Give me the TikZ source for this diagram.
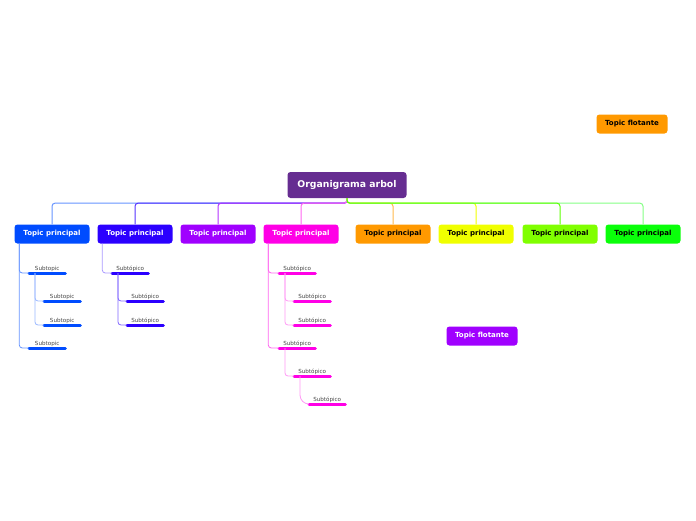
\documentclass[tikz,border=0pt]{standalone}
\usepackage{fontspec}
\setmainfont{DejaVu Sans}
\usepackage{tikz}
\usetikzlibrary{positioning,calc}
\definecolor{rootpurple}{RGB}{102,45,145}
\definecolor{cone}{RGB}{0,76,255}
\definecolor{ctwo}{RGB}{43,0,255}
\definecolor{cthree}{RGB}{160,0,255}
\definecolor{cfour}{RGB}{255,0,230}
\definecolor{cfive}{RGB}{255,153,0}
\definecolor{csix}{RGB}{240,255,0}
\definecolor{cseven}{RGB}{128,255,0}
\definecolor{ceight}{RGB}{10,255,10}
\definecolor{subtext}{RGB}{70,70,70}

\begin{document}
\begin{tikzpicture}[
    x=1pt, y=-1pt,
    root/.style={rectangle, fill=rootpurple, rounded corners=3pt, minimum width=119pt, minimum height=26pt, text=white, font=\fontsize{9.3}{11}\selectfont\bfseries},
    topic/.style={rectangle, fill=#1, rounded corners=3pt, minimum width=75pt, minimum height=19pt, font=\fontsize{7}{8}\selectfont\bfseries},
    subtopic/.style={rectangle, anchor=south west, minimum width=36pt, inner xsep=0pt, inner ysep=2.5pt, text depth=0pt, text=subtext, font=\fontsize{5.6}{6.5}\selectfont,
        append after command={(\tikzlastnode.south west) edge[draw=#1, line width=3pt, line cap=round] (\tikzlastnode.south east)}},
    branch/.style={draw=#1, line width=1pt, rounded corners=3pt},
    twig/.style={draw=#1, line width=0.8pt, rounded corners=3pt}
]
\useasboundingbox (0,0) rectangle (696,520);

\node[root] (root) at (347,185) {Organigrama arbol};

% main topics
\node[topic=cone, text=white] (t1) at (52,234) {Topic principal};
\node[topic=ctwo, text=white] (t2) at (135,234) {Topic principal};
\node[topic=cthree, text=white] (t3) at (218,234) {Topic principal};
\node[topic=cfour, text=white] (t4) at (301,234) {Topic principal};
\node[topic=cfive] (t5) at (393,234) {Topic principal};
\node[topic=csix] (t6) at (476,234) {Topic principal};
\node[topic=cseven] (t7) at (560,234) {Topic principal};
\node[topic=ceight] (t8) at (643,234) {Topic principal};

% floating topics
\node[topic=cfive, minimum width=71pt] (f1) at (632,124) {Topic flotante};
\node[topic=cthree, minimum width=71pt, text=white] (f2) at (482,336) {Topic flotante};

% branches from root
\draw[branch=cone!60] (root.south) -- ++(0,5) -| (t1.north);
\draw[branch=ctwo!80] (root.south) -- ++(0,5) -| (t2.north);
\draw[branch=cthree!80] (root.south) -- ++(0,5) -| (t3.north);
\draw[branch=cfour!60] (root.south) -- ++(0,5) -| (t4.north);
\draw[branch=cfive!70] (root.south) -- ++(0,5) -| (t5.north);
\draw[branch=csix] (root.south) -- ++(0,5) -| (t6.north);
\draw[branch=ceight!50] (root.south) -- ++(0,5) -| (t8.north);
\draw[branch=cseven!70!ceight] (root.south) -- ++(0,5) -| (t7.north);

% subtopics of topic 1
\node[subtopic=cone] (s1a) at (29,273) {Subtopic};
\node[subtopic=cone] (s1aa) at (44,301) {Subtopic};
\node[subtopic=cone] (s1ab) at (44,325) {Subtopic};
\node[subtopic=cone] (s1b) at (29,348) {Subtopic};
\draw[twig=cone!60] ([xshift=5pt]t1.south west) |- (s1a.south west);
\draw[twig=cone!60] ([xshift=5pt]t1.south west) |- (s1b.south west);
\draw[twig=cone!40] ([xshift=6pt]s1a.south west) |- (s1aa.south west);
\draw[twig=cone!40] ([xshift=6pt]s1a.south west) |- (s1ab.south west);

% subtopics of topic 2
\node[subtopic=ctwo] (s2a) at (112,273) {Subtópico};
\node[subtopic=ctwo] (s2aa) at (127,301) {Subtópico};
\node[subtopic=ctwo] (s2ab) at (127,325) {Subtópico};
\draw[twig=ctwo!40] ([xshift=5pt]t2.south west) |- (s2a.south west);
\draw[twig=ctwo!60] ([xshift=6pt]s2a.south west) |- (s2aa.south west);
\draw[twig=ctwo!60] ([xshift=6pt]s2a.south west) |- (s2ab.south west);

% subtopics of topic 4
\node[subtopic=cfour] (s4a) at (279,273) {Subtópico};
\node[subtopic=cfour] (s4aa) at (294,301) {Subtópico};
\node[subtopic=cfour] (s4ab) at (294,325) {Subtópico};
\node[subtopic=cfour] (s4b) at (279,348) {Subtópico};
\node[subtopic=cfour] (s4ba) at (294,376) {Subtópico};
\node[subtopic=cfour] (s4baa) at (309,404) {Subtópico};
\draw[twig=cfour!60] ([xshift=5pt]t4.south west) |- (s4a.south west);
\draw[twig=cfour!60] ([xshift=5pt]t4.south west) |- (s4b.south west);
\draw[twig=cfour!40] ([xshift=6pt]s4a.south west) |- (s4aa.south west);
\draw[twig=cfour!40] ([xshift=6pt]s4a.south west) |- (s4ab.south west);
\draw[twig=cfour!40] ([xshift=6pt]s4b.south west) |- (s4ba.south west);
\draw[twig=cfour!40, rounded corners=9pt] ([xshift=6pt]s4ba.south west) |- (s4baa.south west);

\end{tikzpicture}
\end{document}
